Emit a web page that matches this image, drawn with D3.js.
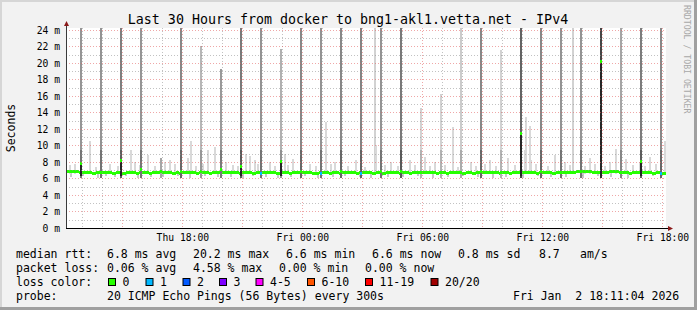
<!DOCTYPE html>
<html>
<head>
<meta charset="utf-8">
<script src="https://cdn.jsdelivr.net/npm/d3@7"></script>
<style>
  body { margin: 0; background: #f2f2f2; }
  svg text { font-family: 'DejaVu Sans Mono', monospace; fill: #000; }
  .minor line { stroke: rgba(143,143,143,0.55); stroke-dasharray: 1,2; shape-rendering: crispEdges; }
  .major line { stroke: rgba(225,95,95,0.55); stroke-dasharray: 1,2; shape-rendering: crispEdges; }
  .bar { shape-rendering: crispEdges; }
</style>
</head>
<body>
<svg id="svg_1" width="697" height="310"></svg>
<script>
// time range and axis ticks
const timeStart = 'Thu 12:11:04';
const timeEnd = 'Fri 18:11:04';
const yMax = 24.24;
const yMajor = [0, 2, 4, 6, 8, 10, 12, 14, 16, 18, 20, 22, 24];
const yMinor = [1, 3, 5, 7, 9, 11, 13, 15, 17, 19, 21, 23];
const xMajor = ['Thu 15:00', 'Thu 18:00', 'Thu 21:00', 'Fri 00:00', 'Fri 03:00', 'Fri 06:00', 'Fri 09:00', 'Fri 12:00', 'Fri 15:00', 'Fri 18:00'];
const xLabels = ['Thu 18:00', 'Fri 00:00', 'Fri 06:00', 'Fri 12:00', 'Fri 18:00'];

// median rtt (ms), one value per 10 minutes starting Thu 12:10
const medianStart = 'Thu 12:10';
const medians = [
  6.8,6.8,6.8,6.8,6.7,6.7,  6.7,6.7,6.6,6.7,6.7,6.7,  6.7,6.7,6.6,6.7,6.7,6.6,
  6.7,6.7,6.7,6.6,6.7,6.7,  6.7,6.6,6.7,6.7,6.7,6.7,  6.7,6.7,6.6,6.7,6.6,6.7,
  6.7,6.7,6.7,6.6,6.7,6.7,  6.7,6.6,6.7,6.7,6.7,6.7,  6.7,6.7,6.7,6.7,6.6,6.7,
  6.7,6.7,6.6,6.7,6.7,6.7,  6.7,6.7,6.7,6.6,6.6,6.7,  6.7,6.6,6.7,6.7,6.7,6.7,
  6.7,6.7,6.6,6.6,6.7,6.7,  6.7,6.6,6.7,6.7,6.6,6.7,  6.7,6.7,6.7,6.6,6.7,6.7,
  6.7,6.7,6.6,6.7,6.7,6.6,  6.7,6.7,6.7,6.7,6.6,6.7,  6.7,6.6,6.7,6.7,6.7,6.7,
  6.7,6.7,6.7,6.6,6.7,6.7,  6.6,6.7,6.7,6.7,6.7,6.6,  6.7,6.7,6.6,6.7,6.7,6.7,
  6.7,6.7,6.7,6.7,6.6,6.7,  6.7,6.6,6.7,6.7,6.7,6.7,  6.7,6.7,6.7,6.6,6.7,6.7,
  6.7,6.7,6.6,6.7,6.7,6.7,  6.7,6.7,6.7,6.8,6.8,6.8,  6.8,6.8,6.7,6.7,6.7,6.7,
  6.7,6.8,6.8,6.8,6.7,6.7,  6.7,6.6,6.7,6.7,6.7,6.7,  6.7,6.7,6.6,6.7,6.7,6.6
];

// hourly spikes: [sample end, median ms, smoke top ms, share of pings up high, lost pings]
const spikes = [
  ['Thu 13:00', 7.8, 24.3, 0.42, 0], ['Thu 14:00', 6.7, 24.3, 0.43, 0],
  ['Thu 15:00', 8.2, 24.3, 0.55, 0], ['Thu 16:00', 7.1, 24.3, 0.42, 0],
  ['Thu 17:00', 6.8, 8.5, 0.15, 0],  ['Thu 18:00', 6.9, 24.3, 0.50, 0],
  ['Thu 19:00', 6.9, 22.1, 0.23, 0], ['Thu 20:00', 7.1, 19.3, 0.40, 0],
  ['Thu 21:00', 7.5, 24.3, 0.58, 0], ['Thu 22:00', 6.6, 24.3, 0.43, 1],
  ['Thu 23:00', 8.1, 21.7, 0.27, 0], ['Fri 00:00', 6.8, 24.3, 0.50, 0],
  ['Fri 01:00', 6.6, 24.3, 0.43, 1], ['Fri 02:00', 6.9, 24.3, 0.50, 0],
  ['Fri 03:00', 6.6, 24.3, 0.52, 1], ['Fri 04:00', 6.8, 24.3, 0.43, 0],
  ['Fri 05:00', 6.8, 24.3, 0.58, 0], ['Fri 06:00', 6.7, 14.5, 0.08, 0],
  ['Fri 07:00', 6.7, 16.3, 0.08, 0], ['Fri 08:00', 6.7, 24.3, 0.12, 0],
  ['Fri 09:00', 6.8, 24.3, 0.50, 0], ['Fri 10:00', 6.7, 21.6, 0.08, 0],
  ['Fri 11:00', 11.5, 24.3, 0.70, 0], ['Fri 12:00', 6.9, 24.3, 0.50, 0],
  ['Fri 13:00', 6.7, 24.3, 0.43, 0], ['Fri 14:00', 6.8, 24.3, 0.43, 0],
  ['Fri 15:00', 20.2, 24.3, 0.87, 0], ['Fri 16:00', 6.7, 24.3, 0.33, 0],
  ['Fri 17:00', 8.0, 24.3, 0.56, 0], ['Fri 18:00', 6.6, 24.3, 0.50, 1]
];

// scattered light smoke above the median: [sample end, top ms]
const lightBars = [
  ['Thu 12:25', 7.6], ['Thu 12:40', 7.8], ['Thu 13:25', 10.5], ['Thu 13:45', 7.4], ['Thu 14:25', 7.8], ['Thu 14:50', 7.5],
  ['Thu 15:30', 9.4], ['Thu 15:40', 8.0], ['Thu 15:55', 7.6], ['Thu 16:20', 8.8], ['Thu 16:40', 7.5], ['Thu 17:10', 8.0],
  ['Thu 17:25', 8.2], ['Thu 17:40', 7.7], ['Thu 18:20', 8.5], ['Thu 18:30', 10.6], ['Thu 18:45', 7.5], ['Thu 19:05', 7.8],
  ['Thu 19:20', 9.4], ['Thu 19:40', 9.8], ['Thu 20:15', 8.0], ['Thu 20:35', 7.6], ['Thu 20:50', 7.5], ['Thu 21:15', 9.0],
  ['Thu 21:25', 8.7], ['Thu 21:40', 8.3], ['Thu 21:50', 7.7], ['Thu 22:25', 8.0], ['Thu 22:40', 7.5], ['Thu 23:10', 9.0],
  ['Thu 23:20', 7.6], ['Thu 23:35', 8.4], ['Fri 00:25', 7.8], ['Fri 00:45', 7.5], ['Fri 01:15', 12.8], ['Fri 01:30', 7.7],
  ['Fri 01:40', 8.0], ['Fri 02:20', 7.5], ['Fri 02:45', 8.2], ['Fri 03:10', 7.4], ['Fri 03:40', 24.3], ['Fri 03:45', 10.0],
  ['Fri 04:10', 7.6], ['Fri 04:30', 8.0], ['Fri 04:50', 7.5], ['Fri 05:25', 8.2], ['Fri 05:40', 7.6], ['Fri 06:10', 8.6],
  ['Fri 06:25', 7.5], ['Fri 06:40', 8.0], ['Fri 07:10', 7.6], ['Fri 07:35', 12.2], ['Fri 07:50', 7.4], ['Fri 08:30', 8.0],
  ['Fri 08:45', 7.5], ['Fri 09:10', 7.7], ['Fri 09:25', 8.3], ['Fri 09:45', 7.5], ['Fri 10:20', 8.5], ['Fri 10:40', 7.6],
  ['Fri 11:10', 9.4], ['Fri 11:15', 13.5], ['Fri 11:25', 12.4], ['Fri 11:30', 8.2], ['Fri 11:45', 7.7], ['Fri 12:20', 7.5],
  ['Fri 12:40', 8.8], ['Fri 13:10', 8.0], ['Fri 13:25', 7.6], ['Fri 13:35', 24.3], ['Fri 14:10', 7.5], ['Fri 14:25', 8.5],
  ['Fri 14:40', 7.7], ['Fri 15:10', 7.5], ['Fri 15:25', 8.0], ['Fri 15:45', 9.6], ['Fri 16:15', 8.4], ['Fri 16:35', 7.6],
  ['Fri 16:55', 8.0], ['Fri 17:10', 7.5], ['Fri 17:25', 8.6], ['Fri 17:45', 7.7], ['Fri 18:10', 10.6]
];

// smoke below the median: [sample end, bottom ms]
const lowBits = [
  ['Thu 12:30', 6.2], ['Thu 13:05', 6.3], ['Thu 13:50', 6.1], ['Thu 14:15', 6.3], ['Thu 14:40', 6.2], ['Thu 15:15', 6.3],
  ['Thu 15:50', 6.1], ['Thu 16:30', 6.2], ['Thu 17:05', 6.2], ['Thu 17:50', 6.3], ['Thu 18:25', 6.1], ['Thu 19:10', 6.3],
  ['Thu 19:50', 6.2], ['Thu 20:30', 6.2], ['Thu 21:05', 6.1], ['Thu 21:35', 6.3], ['Thu 22:15', 6.2], ['Thu 22:50', 6.1],
  ['Thu 23:30', 6.2], ['Fri 00:10', 6.3], ['Fri 00:50', 6.1], ['Fri 01:35', 6.2], ['Fri 02:10', 6.3], ['Fri 02:55', 6.2],
  ['Fri 03:30', 6.1], ['Fri 04:20', 6.2], ['Fri 05:05', 6.2], ['Fri 05:50', 6.3], ['Fri 06:35', 6.1], ['Fri 07:20', 6.2],
  ['Fri 08:05', 6.3], ['Fri 08:50', 6.2], ['Fri 09:35', 6.1], ['Fri 10:15', 6.2], ['Fri 11:05', 6.1], ['Fri 11:50', 6.3],
  ['Fri 12:30', 6.2], ['Fri 13:15', 6.2], ['Fri 14:05', 6.1], ['Fri 14:50', 6.3], ['Fri 15:30', 6.2], ['Fri 16:20', 6.1],
  ['Fri 17:00', 6.2], ['Fri 17:35', 6.3]
];

// loss colours
const lossLimits = [1, 2, 3, 4, 6, 11, 20];
const lossLabels = ['0', '1', '2', '3', '4-5', '6-10', '11-19', '20/20'];
const lossColors = ['#26ff00', '#00b8ff', '#0059ff', '#7e00ff', '#ff00ff', '#ff5500', '#ff0000', '#a00000'];

// legend text
const rttStats = [['median rtt:', 16], ['6.8 ms avg', 107], ['20.2 ms max', 193], ['6.6 ms min', 286], ['6.6 ms now', 372], ['0.8 ms sd', 458], ['8.7', 539], ['am/s', 580]];
const lossStats = [['packet loss:', 16], ['0.06 % avg', 107], ['4.58 % max', 193], ['0.00 % min', 279], ['0.00 % now', 365]];
const lossLegendX = [108, 145.5, 182.5, 219, 255.5, 307, 365, 430.5];
const probeRow = [['probe:', 16], ['20 ICMP Echo Pings (56 Bytes) every 300s', 107], ['Fri Jan  2 18:11:04 2026', 513]];

const day0 = Date.UTC(2026, 0, 1);
const at = s => {
  const [d, hm] = s.split(' ');
  const [h, m, sec] = hm.split(':').map(Number);
  return new Date(day0 + ((d === 'Fri' ? 24 : 0) + h) * 36e5 + m * 6e4 + (sec || 0) * 1e3);
};
const step = 5 * 6e4;

function smokeChart() {
  const svg = d3.select('#svg_1');
  const width = +svg.attr('width');
  const height = +svg.attr('height');
  const margin = ({top: 28, right: 31, bottom: 82, left: 66});
  const innerWidth = width - margin.left - margin.right;
  const innerHeight = height - margin.top - margin.bottom;

  const x = d3.scaleUtc()
    .domain([at(timeStart), at(timeEnd)])
    .range([0, innerWidth])
    .clamp(true);

  const y = d3.scaleLinear()
    .domain([0, yMax])
    .range([innerHeight, 0])
    .clamp(true);

  const shade = d3.scaleLinear().domain([0, 1]).range(['#e0e0e0', '#2e2e2e']).clamp(true);
  const lossColor = d3.scaleThreshold().domain(lossLimits).range(lossColors);

  // frame
  svg.append('rect').attr('width', width).attr('height', height).attr('fill', '#f2f2f2');
  svg.append('rect').attr('width', width).attr('height', 2).attr('fill', '#d6d6d6');
  svg.append('rect').attr('width', 2).attr('height', height).attr('fill', '#d6d6d6');
  svg.append('rect').attr('y', height - 3).attr('width', width).attr('height', 3).attr('fill', '#a0a0a0');
  svg.append('rect').attr('x', width - 3).attr('width', 3).attr('height', height).attr('fill', '#a0a0a0');

  const g = svg.append('g')
    .attr('transform', `translate(${margin.left},${margin.top})`);

  g.append('rect').attr('width', innerWidth).attr('height', innerHeight).attr('fill', '#fff');

  // each sample drawn 2px wide, ending at its timestamp
  const x0 = d => Math.round(x(at(d[0]))) - 2;
  const sw = 2;

  // smoke below the median
  g.selectAll('.low').data(lowBits)
    .enter().append('rect')
      .attr('class', 'bar')
      .attr('x', x0)
      .attr('width', sw)
      .attr('y', y(6.7))
      .attr('height', d => y(d[1]) - y(6.7))
      .attr('fill', '#c9c9c9');

  // light smoke
  g.selectAll('.light').data(lightBars)
    .enter().append('rect')
      .attr('class', 'bar')
      .attr('x', x0)
      .attr('width', sw)
      .attr('y', d => y(d[1]))
      .attr('height', d => y(6.5) - y(d[1]))
      .attr('fill', d => d[1] > 20 ? '#d2d2d2' : '#d9d9d9');

  // median line
  const mStart = at(medianStart);
  g.selectAll('.median').data(medians)
    .enter().append('rect')
      .attr('class', 'bar')
      .attr('x', (d, i) => x(new Date(+mStart + i * 2 * step)))
      .attr('width', (d, i) => x(new Date(+mStart + (i + 1) * 2 * step)) - x(new Date(+mStart + i * 2 * step)))
      .attr('y', d => y(d) - 1.5)
      .attr('height', 3)
      .attr('fill', lossColors[0]);

  // hourly spikes
  g.selectAll('.spike').data(spikes)
    .enter().append('rect')
      .attr('class', 'bar')
      .attr('x', x0)
      .attr('width', sw)
      .attr('y', d => y(d[2]))
      .attr('height', d => y(6.1) - y(d[2]))
      .attr('fill', d => shade(d[3]));

  g.selectAll('.spikebase').data(spikes)
    .enter().append('rect')
      .attr('class', 'bar')
      .attr('x', x0)
      .attr('width', sw)
      .attr('y', d => y(Math.min(d[2], 9.5)))
      .attr('height', d => y(6.1) - y(Math.min(d[2], 9.5)))
      .attr('fill', d => shade(d[3] + 0.18));

  g.selectAll('.spikemed').data(spikes.filter(d => d[1] > 7.2))
    .enter().append('rect')
      .attr('class', 'bar')
      .attr('x', x0)
      .attr('width', sw)
      .attr('y', d => y(d[1]))
      .attr('height', d => y(6.3) - y(d[1]))
      .attr('fill', '#262626');

  g.selectAll('.dot').data(spikes)
    .enter().append('rect')
      .attr('class', 'bar')
      .attr('x', x0)
      .attr('width', sw)
      .attr('y', d => y(d[1]) - 1.5)
      .attr('height', 3)
      .attr('fill', d => lossColor(d[4]));

  // grid on top
  const majorT = xMajor.map(at);
  g.append('g').attr('class', 'minor')
    .call(d3.axisLeft(y).tickValues(yMinor).tickSize(-innerWidth).tickFormat(''))
    .call(a => a.select('.domain').remove());
  g.append('g').attr('class', 'minor')
    .call(d3.axisBottom(x).tickValues(x.ticks(d3.utcHour.every(1)).filter(t => !majorT.some(m => +m === +t)))
      .tickSize(innerHeight).tickFormat(''))
    .call(a => a.select('.domain').remove());
  g.append('g').attr('class', 'major')
    .call(d3.axisLeft(y).tickValues(yMajor.slice(1)).tickSize(-innerWidth).tickFormat(''))
    .call(a => a.select('.domain').remove());
  g.append('g').attr('class', 'major')
    .call(d3.axisBottom(x).tickValues(majorT).tickSize(innerHeight).tickFormat(''))
    .call(a => a.select('.domain').remove());

  // axis labels
  const yAxisG = g.append('g')
    .call(d3.axisLeft(y).tickValues(yMajor).tickFormat(d => d + ' m').tickSize(0).tickPadding(6));
  yAxisG.select('.domain').remove();
  yAxisG.selectAll('text').attr('font-family', 'DejaVu Sans Mono').attr('font-size', '9.7px');

  const xAxisG = g.append('g')
    .attr('transform', `translate(0,${innerHeight})`)
    .call(d3.axisBottom(x).tickValues(xLabels.map(at)).tickFormat(d3.utcFormat('%a %H:%M')).tickSize(0).tickPadding(6));
  xAxisG.select('.domain').remove();
  xAxisG.selectAll('text').attr('font-family', 'DejaVu Sans Mono').attr('font-size', '9.7px');

  // axis lines and arrows
  g.append('line').attr('x1', 0.5).attr('x2', 0.5).attr('y1', innerHeight).attr('y2', -3)
    .attr('stroke', '#3a3a3a');
  g.append('line').attr('x1', 0).attr('x2', innerWidth + 3).attr('y1', innerHeight + 0.5).attr('y2', innerHeight + 0.5)
    .attr('stroke', '#000');
  g.append('path').attr('d', 'M-2,-2 L3,-2 L0.5,-7 Z').attr('fill', '#8b1a1a');
  g.append('path').attr('d', `M${innerWidth + 2},${innerHeight - 2} L${innerWidth + 2},${innerHeight + 3} L${innerWidth + 7},${innerHeight + 0.5} Z`)
    .attr('fill', '#8b1a1a');

  // titles
  svg.append('text')
    .attr('x', 348).attr('y', 24)
    .attr('text-anchor', 'middle')
    .style('font-size', '13.3px')
    .text('Last 30 Hours from docker to bng1-akl1.vetta.net - IPv4');

  svg.append('text')
    .attr('transform', `translate(15,${margin.top + innerHeight / 2}) rotate(-90)`)
    .attr('text-anchor', 'middle')
    .style('font-size', '11.5px')
    .text('Seconds');

  svg.append('text')
    .attr('transform', 'translate(684,5) rotate(90)')
    .style('font-size', '8.2px')
    .style('fill', '#a8a8a8')
    .text('RRDTOOL / TOBI OETIKER');

  // legend
  const row = (items, yy) => svg.selectAll(null).data(items)
    .enter().append('text')
      .attr('x', d => d[1])
      .attr('y', yy)
      .attr('xml:space', 'preserve')
      .style('font-size', '11.5px')
      .text(d => d[0]);

  row(rttStats, 258);
  row(lossStats, 272);
  row([['loss color:', 16]], 286);
  row(probeRow, 300);

  svg.selectAll('.lbox').data(lossLabels)
    .enter().append('rect')
      .attr('x', (d, i) => lossLegendX[i] + 0.5)
      .attr('y', 278.5)
      .attr('width', 7)
      .attr('height', 7)
      .attr('fill', (d, i) => lossColors[i])
      .attr('stroke', '#000');

  svg.selectAll('.ltext').data(lossLabels)
    .enter().append('text')
      .attr('x', (d, i) => lossLegendX[i] + 14.5)
      .attr('y', 286)
      .style('font-size', '11.5px')
      .text(d => d);
}

smokeChart();
</script>
</body>
</html>
